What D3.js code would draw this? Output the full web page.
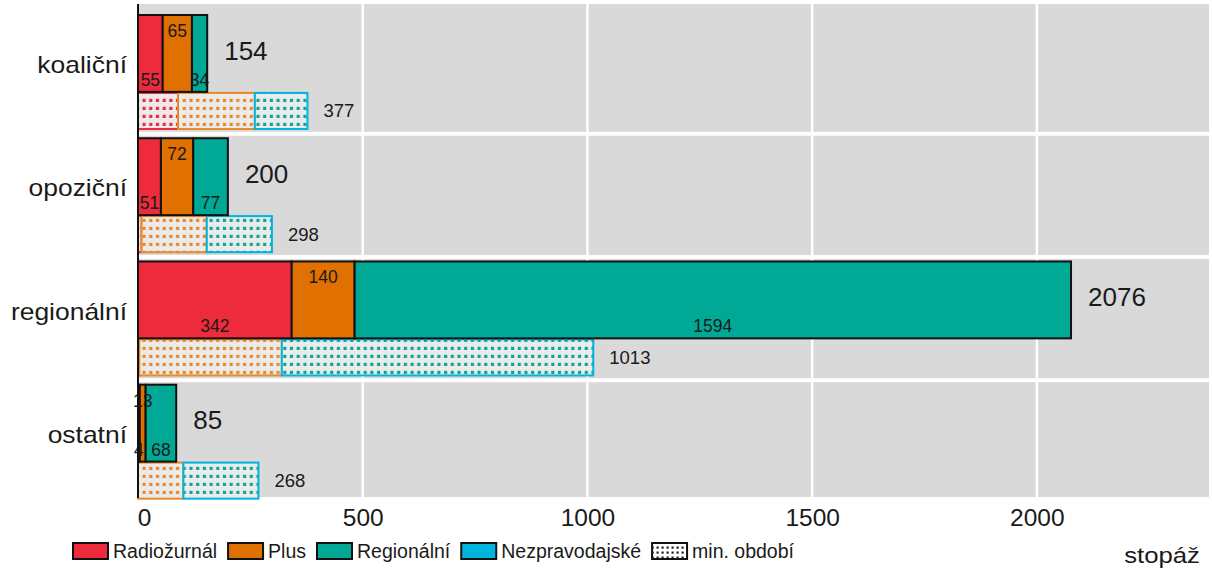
<!DOCTYPE html>
<html><head><meta charset="utf-8">
<script src="https://cdn.jsdelivr.net/npm/d3@7"></script>
<style>
body{margin:0;background:#fff;}
text{font-family:Arial,"Liberation Sans",sans-serif;fill:#1a1a1a;}
</style></head>
<body><svg id="chart" width="1212" height="576"></svg>
<script>
// ---- data ----
const categories = ["koaliční","opoziční","regionální","ostatní"];
const seriesNames = ["Radiožurnál","Plus","Regionální","Nezpravodajské"];
const radiozurnal = [55, 51, 342, 4];
const plus = [65, 72, 140, 13];
const regionalni = [34, 77, 1594, 68];
const totals = [154, 200, 2076, 85];
const prevRadiozurnal = [89, 8, 3, 0];
const prevPlus = [171, 145, 317, 101];
const prevRegionalni = [117, 145, 693, 167];
const prevTotals = [377, 298, 1013, 268];
const xTicks = [0, 500, 1000, 1500, 2000];
const legendLabels = ["Radiožurnál","Plus","Regionální","Nezpravodajské","min. období"];
const axisTitle = "stopáž";

// ---- styles ----
const colors = ["#EE2B3D","#E07000","#00A896","#00B4DE"];
const prevStroke = ["#EE2B3D","#E8892A","#00B4DE"];
const dotColors = ["#EE2B3D","#E8892A","#0BA896"];
const panelFill = "#D9D9D9";

const svg = d3.select("#chart");
const defs = svg.append("defs");
dotColors.forEach((c,i)=>{
  const p = defs.append("pattern").attr("id","dots"+i).attr("patternUnits","userSpaceOnUse")
    .attr("width",6.7).attr("height",8).attr("x",0).attr("y",1);
  p.append("rect").attr("width",6.7).attr("height",8).attr("fill","#EBEBEB");
  p.append("rect").attr("x",1.8).attr("y",1.8).attr("width",3.2).attr("height",3.2).attr("fill",c);
});
{
  const p = defs.append("pattern").attr("id","dotsK").attr("patternUnits","userSpaceOnUse")
    .attr("width",5).attr("height",5);
  p.append("rect").attr("width",5).attr("height",5).attr("fill","#fff");
  p.append("rect").attr("x",1.5).attr("y",1.5).attr("width",2.2).attr("height",2.2).attr("fill","#222");
}

// stretched text helper
function stext(g, tx, ty, str, size, sx, anchor){
  return g.append("text").attr("transform",`translate(${tx},${ty}) scale(${sx},1)`)
    .attr("dy","0.35em").attr("text-anchor",anchor||"start").attr("font-size",size).text(str);
}

const x = d3.scaleLinear().domain([0, 2383]).range([138, 1209]);
const y = d3.scaleBand().domain(categories).range([11, 499]).paddingInner(0.04);
const bw = y.bandwidth();

// panels
const panelTop = (c,i)=> i===0 ? 4 : y(c)+1.5;
const panelBot = (c,i)=> i===3 ? 497 : y(c)+bw+2.5;
categories.forEach((c,i)=>{
  svg.append("rect").attr("x",138).attr("y",panelTop(c,i)).attr("width",1209-138)
    .attr("height", panelBot(c,i)-panelTop(c,i)).attr("fill",panelFill);
});
// gridlines
const grid = svg.append("g");
xTicks.filter(t=>t>0).forEach(t=>{
  categories.forEach((c,i)=>{
    grid.append("line").attr("x1",x(t)).attr("x2",x(t)).attr("y1",panelTop(c,i)).attr("y2",panelBot(c,i))
      .attr("stroke","#fff").attr("stroke-width",2.5);
  });
});

const cur = [radiozurnal, plus, regionalni];
const prev = [prevRadiozurnal, prevPlus, prevRegionalni];
const curH = bw*0.65, prevH = bw*0.305, padTop = 4;

categories.forEach((c,i)=>{
  const by = y(c)+padTop;
  // previous period
  let acc = 0;
  prev.forEach((s,k)=>{
    const v = s[i];
    if(v>0){
      svg.append("rect").attr("x",x(acc)).attr("y",by+curH+1).attr("width",x(acc+v)-x(acc))
        .attr("height",prevH).attr("fill","url(#dots"+k+")").attr("stroke",prevStroke[k]).attr("stroke-width",2);
    }
    acc += v;
  });
  svg.append("text").attr("x",x(acc)+16).attr("y",by+curH+1+prevH/2).attr("dy","0.35em")
    .attr("font-size",18.5).text(prevTotals[i]);
  // current
  acc = 0;
  cur.forEach((s,k)=>{
    const v = s[i];
    svg.append("rect").attr("x",x(acc)).attr("y",by).attr("width",x(acc+v)-x(acc))
      .attr("height",curH).attr("fill",colors[k]).attr("stroke","#111").attr("stroke-width",2);
    acc += v;
  });
  acc = 0;
  cur.forEach((s,k)=>{
    const v = s[i];
    const cx = (x(acc)+x(acc+v))/2;
    const ty = k===1 ? by+22 : by+curH-6;
    svg.append("text").attr("x",cx).attr("y",ty).attr("text-anchor","middle")
      .attr("font-size",17.5).text(v);
    acc += v;
  });
  svg.append("text").attr("x",x(acc)+17).attr("y",by+curH/2-3).attr("dy","0.35em")
    .attr("font-size",26).text(totals[i]);
  // category label
  stext(svg, 127, y(c)+bw/2-5, c, 23, 1.15, "end");
});

// left axis line
svg.append("line").attr("x1",138).attr("x2",138).attr("y1",4).attr("y2",498)
  .attr("stroke","#111").attr("stroke-width",2);

// x axis labels
const xa = svg.append("g").attr("transform","translate(0,505)")
  .call(d3.axisBottom(x).tickValues(xTicks).tickSize(0).tickPadding(4).tickFormat(d3.format("d")));
xa.select(".domain").remove();
xa.selectAll("text").attr("font-size",24.5).attr("font-family","Arial, 'Liberation Sans', sans-serif").attr("fill","#1a1a1a");
xa.selectAll(".tick").filter(d=>d===0).select("text").attr("dx",6);

// axis title
stext(svg, 1200, 555, axisTitle, 23, 1.12, "end");

// legend
const lg = svg.append("g");
let lx = 73;
legendLabels.forEach((l,k)=>{
  lg.append("rect").attr("x",lx).attr("y",543).attr("width",35).attr("height",16)
    .attr("fill", k<4 ? colors[k] : "url(#dotsK)").attr("stroke","#111").attr("stroke-width",2);
  const t = stext(lg, lx+40, 551, l, 19.5, 1, "start");
  lx += 40 + t.node().getComputedTextLength() + 11;
});
</script></body></html>
